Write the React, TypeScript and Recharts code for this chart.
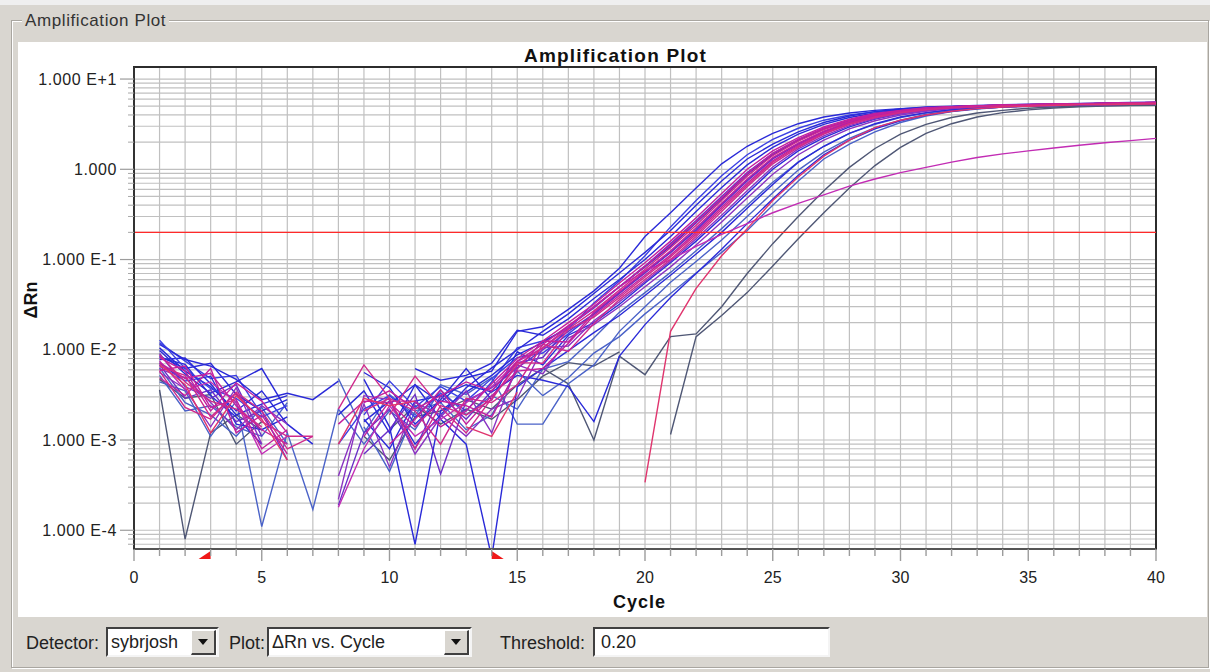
import React from 'react';
import {
  CartesianGrid,
  Line,
  LineChart,
  ReferenceArea,
  ReferenceDot,
  ReferenceLine,
  XAxis,
  YAxis,
} from 'recharts';

// cycle numbers on the x axis
const cycles = [
  1, 2, 3, 4, 5, 6, 7, 8, 9, 10, 11, 12, 13, 14, 15, 16, 17, 18, 19, 20,
  21, 22, 23, 24, 25, 26, 27, 28, 29, 30, 31, 32, 33, 34, 35, 36, 37, 38, 39, 40,
];

// ΔRn per well, one value per cycle (null = not drawn, value <= 0 on a log axis)
const w01 = [0.0085, 0.0062, 0.0071, 0.0032, 0.0021, 0.0028, null, 0.0019, 0.0035, 0.0012,
  0.0041, 0.0026, 0.0049, 0.0058, 0.016, 0.018, 0.028, 0.045, 0.08, 0.18,
  0.33, 0.62, 1.15, 1.8, 2.5, 3.2, 3.8, 4.2, 4.5, 4.7,
  4.85, 4.95, 5.05, 5.1, 5.15, 5.2, 5.25, 5.3, 5.3, 5.35];
const w02 = [0.012, 0.0075, 0.0048, 0.0052, 0.0019, null, null, 0.0009, 0.0022, 0.0031,
  0.0018, 0.0033, 0.0021, 0.0044, 0.0105, 0.0125, 0.017, 0.033, 0.058, 0.11,
  0.23, 0.45, 0.85, 1.45, 2.15, 2.85, 3.5, 4.0, 4.35, 4.6,
  4.8, 4.95, 5.05, 5.1, 5.2, 5.25, 5.3, 5.35, 5.4, 5.45];
const w03 = [0.0105, 0.0058, 0.0039, 0.0021, 0.0035, 0.0015, 0.0009, null, 0.0016, 0.0027,
  0.0009, 0.0019, 0.0038, 0.0063, 0.01, 0.016, 0.025, 0.042, 0.071, 0.12,
  0.21, 0.4, 0.74, 1.3, 1.9, 2.6, 3.3, 3.9, 4.35, 4.65,
  4.9, 5.0, 5.1, 5.2, 5.25, 5.3, 5.35, 5.45, 5.5, 5.55];
const w04 = [0.0072, 0.0048, 0.0055, 0.0024, 0.0013, 0.0009, null, null, 0.0011, 0.0027,
  0.0027, 0.0014, 0.0021, 0.0042, 0.008, 0.0125, 0.02, 0.032, 0.055, 0.092,
  0.16, 0.29, 0.54, 1.0, 1.6, 2.25, 2.95, 3.6, 4.15, 4.5,
  4.8, 4.95, 5.05, 5.15, 5.22, 5.28, 5.32, 5.4, 5.47, 5.5];
const w05 = [0.0091, 0.0039, 0.0029, 0.0041, 0.0011, null, null, 0.00019, 0.0012, 0.0022,
  0.0008, 0.0031, 0.0017, 0.0035, 0.0072, 0.0082, 0.018, 0.029, 0.05, 0.085,
  0.15, 0.27, 0.5, 0.92, 1.5, 2.15, 2.85, 3.5, 4.05, 4.45,
  4.75, 4.95, 5.05, 5.15, 5.2, 5.25, 5.3, 5.35, 5.4, 5.45];
const w06 = [0.0065, 0.0052, 0.0018, 0.0033, 0.0016, 0.0011, 0.0011, null, null, 0.0019,
  0.0051, 0.0023, 0.0012, 0.0029, 0.0068, 0.0105, 0.017, 0.027, 0.046, 0.078,
  0.135, 0.24, 0.45, 0.84, 1.42, 2.05, 2.75, 3.4, 4.0, 4.4,
  4.7, 4.92, 5.02, 5.12, 5.2, 5.26, 5.3, 5.36, 5.44, 5.5];
const w07 = [0.0078, 0.0081, 0.0042, 0.0019, 0.0025, 0.0031, null, null, 0.0047, 0.0014,
  0.00007, 0.0021, 0.0034, 0.0052, 0.0088, 0.012, 0.018, 0.03, 0.05, 0.083,
  0.14, 0.255, 0.47, 0.88, 1.45, 2.1, 2.8, 3.45, 4.0, 4.4,
  4.7, 4.9, 5.0, 5.1, 5.18, 5.24, 5.3, 5.35, 5.4, 5.45];
const w08 = [0.0059, 0.0066, 0.0023, 0.0028, 0.0008, 0.0013, null, 0.0015, 0.0027, 0.0026,
  0.0014, 0.0027, 0.0024, 0.0018, 0.0061, 0.0125, 0.0122, 0.026, 0.044, 0.074,
  0.125, 0.225, 0.42, 0.78, 1.35, 1.95, 2.65, 3.35, 3.95, 4.38,
  4.68, 4.9, 5.02, 5.1, 5.2, 5.25, 5.3, 5.36, 5.44, 5.5];
const w09 = [0.0068, 0.0029, 0.0036, 0.0016, 0.0021, 0.0006, null, null, 0.0007, 0.0013,
  0.0032, 0.00042, 0.0027, 0.0038, 0.0063, 0.01, 0.016, 0.025, 0.042, 0.071,
  0.12, 0.21, 0.4, 0.74, 1.3, 1.9, 2.6, 3.3, 3.9, 4.35,
  4.65, 4.9, 5.0, 5.1, 5.2, 5.25, 5.3, 5.35, 5.45, 5.5];
const w10 = [0.0049, 0.0031, 0.0062, 0.0012, 0.0019, 0.0007, null, null, null, 0.0009,
  0.0017, 0.0036, 0.0015, 0.0031, 0.0058, 0.0062, 0.0118, 0.024, 0.04, 0.067,
  0.112, 0.2, 0.38, 0.7, 1.24, 1.85, 2.55, 3.25, 3.85, 4.3,
  4.62, 4.85, 4.98, 5.08, 5.15, 5.22, 5.28, 5.32, 5.4, 5.45];
const w11 = [0.0088, 0.0044, 0.0027, 0.0022, 0.0014, null, null, 0.0022, 0.0068, 0.0029,
  0.0021, 0.0009, 0.0029, 0.0026, 0.0041, 0.0115, 0.0096, 0.0195, 0.036, 0.06,
  0.1, 0.18, 0.34, 0.64, 1.15, 1.75, 2.45, 3.15, 3.75, 4.22,
  4.56, 4.8, 4.95, 5.05, 5.12, 5.2, 5.25, 5.3, 5.38, 5.42];
const w12 = [0.0056, 0.0037, 0.0014, 0.0038, 0.0009, null, null, 0.0004, 0.0025, 0.0005,
  0.0026, 0.0019, 0.0011, 0.0022, 0.0029, 0.0105, 0.011, 0.021, 0.034, 0.057,
  0.096, 0.17, 0.31, 0.58, 1.06, 1.68, 2.35, 3.05, 3.65, 4.15,
  4.5, 4.78, 4.93, 5.03, 5.12, 5.2, 5.25, 5.3, 5.36, 5.42];
const w13 = [0.0098, 0.0054, 0.0033, 0.0044, 0.0062, 0.0021, null, null, 0.0056, 0.0038,
  0.0015, 0.0028, 0.0062, 0.0028, 0.0095, 0.0068, 0.0145, 0.02, 0.032, 0.055,
  0.092, 0.16, 0.29, 0.54, 1.0, 1.6, 2.25, 2.95, 3.6, 4.15,
  4.5, 4.8, 4.95, 5.05, 5.15, 5.22, 5.28, 5.32, 5.4, 5.45];
const w14 = [0.0044, 0.0035, 0.0011, 0.0027, 0.00011, 0.0012, 0.00017, 0.0022, 0.0009, 0.0021,
  0.0013, 0.0036, 0.0019, 0.0031, 0.0022, 0.0061, 0.0074, 0.0135, 0.026, 0.043,
  0.072, 0.125, 0.22, 0.4, 0.72, 1.2, 1.8, 2.5, 3.15, 3.75,
  4.2, 4.55, 4.8, 4.95, 5.05, 5.12, 5.2, 5.25, 5.3, 5.35];
const w15 = [0.0071, 0.0045, 0.0051, 0.0015, 0.0013, 0.0018, null, null, null, 0.0025,
  0.0041, 0.0017, 0.0009, 0.00005, 0.0039, 0.0062, 0.0098, 0.0155, 0.024, 0.04,
  0.067, 0.115, 0.2, 0.37, 0.68, 1.2, 1.8, 2.5, 3.2, 3.8,
  4.25, 4.6, 4.85, 4.98, 5.08, 5.15, 5.22, 5.28, 5.32, 5.38];
const w16 = [0.0063, 0.0026, 0.0019, 0.0011, 0.0023, 0.0009, null, 0.0048, 0.0012, 0.0032,
  0.0019, 0.0041, 0.0032, 0.0049, 0.0015, 0.0015, 0.0042, 0.0068, 0.016, 0.03,
  0.056, 0.095, 0.165, 0.3, 0.55, 0.98, 1.55, 2.2, 2.9, 3.5,
  4.05, 4.45, 4.72, 4.9, 5.0, 5.1, 5.18, 5.22, 5.28, 5.32];
const w17 = [0.0082, 0.0069, 0.0031, 0.0018, 0.0009, null, null, null, 0.0017, 0.0008,
  0.0027, 0.0031, 0.0041, 0.0034, 0.0052, 0.0046, 0.0039, 0.0016, 0.0085, 0.019,
  0.038, 0.07, 0.13, 0.25, 0.47, 0.86, 1.45, 2.1, 2.8, 3.45,
  4.0, 4.4, 4.7, 4.88, 5.0, 5.08, 5.15, 5.2, 5.26, 5.3];
const w18 = [0.0052, 0.0021, 0.0024, 0.0014, 0.0011, 0.0026, null, null, 0.0014, 0.00045,
  0.0021, 0.0026, 0.0013, 0.0019, 0.0058, 0.0031, 0.0049, 0.0092, 0.014, 0.025,
  0.042, 0.071, 0.12, 0.21, 0.4, 0.74, 1.3, 1.9, 2.6, 3.3,
  3.9, 4.35, 4.65, 4.9, 5.0, 5.1, 5.2, 5.25, 5.3, 5.35];
const w19 = [0.0069, 0.0041, 0.0012, 0.0031, 0.0017, 0.0006, null, 0.0009, 0.0029, 0.0024,
  0.0027, null, 0.0014, 0.0011, 0.0034, null, null, null, null, 0.00034,
  0.016, 0.048, 0.11, 0.22, 0.45, 0.82, 1.4, 2.1, 2.9, 3.5,
  4.0, 4.4, 4.7, 4.9, 5.0, 5.1, 5.2, 5.2, 5.25, 5.3];
const w20 = [0.0075, 0.0036, 0.0044, 0.0026, 0.0007, 0.0011, null, 0.00018, 0.0008, 0.0024,
  0.0011, 0.0017, 0.0026, 0.0039, 0.0074, 0.0105, 0.018, 0.03, 0.05, 0.075,
  0.1, 0.14, 0.19, 0.25, 0.33, 0.42, 0.52, 0.65, 0.78, 0.92,
  1.05, 1.2, 1.35, 1.48, 1.6, 1.72, 1.85, 1.97, 2.08, 2.2];
const w21 = [0.0036, 0.00008, 0.0012, 0.0019, 0.0013, null, null, null, 0.0011, 0.0006,
  0.0018, 0.0021, 0.0028, 0.0022, 0.0041, 0.0062, 0.0042, 0.001, 0.0085, 0.0053,
  0.014, 0.015, 0.03, 0.07, 0.15, 0.3, 0.58, 1.05, 1.7, 2.45,
  3.15, 3.75, 4.2, 4.5, 4.75, 4.9, 5.0, 5.08, 5.12, 5.18];
const w22 = [0.0047, 0.0029, 0.0032, 0.0009, 0.0016, null, null, null, null, 0.0013,
  0.0024, 0.0015, 0.0022, 0.0017, 0.0028, 0.0051, 0.0072, 0.0066, 0.0095, null,
  0.00115, 0.014, 0.024, 0.043, 0.085, 0.17, 0.33, 0.62, 1.1, 1.75,
  2.5, 3.2, 3.8, 4.25, 4.55, 4.78, 4.92, 5.02, 5.08, 5.12];
const w23 = [0.0115, 0.0078, 0.0066, 0.0047, 0.0028, 0.0033, 0.0028, 0.0045, null, null,
  0.0062, 0.0046, 0.0052, 0.0071, 0.0165, 0.0145, 0.022, 0.037, 0.06, 0.1,
  0.18, 0.34, 0.63, 1.12, 1.75, 2.45, 3.15, 3.75, 4.2, 4.55,
  4.8, 4.95, 5.05, 5.12, 5.2, 5.25, 5.3, 5.38, 5.45, 5.5];
const w24 = [0.0061, 0.0049, 0.0026, 0.0013, 0.0024, 0.0015, null, 0.00022, 0.0031, 0.0028,
  0.0007, 0.0018, 0.0035, 0.0012, 0.0068, 0.0054, 0.0135, 0.019, 0.03, 0.05,
  0.083, 0.145, 0.26, 0.48, 0.88, 1.45, 2.1, 2.8, 3.45, 4.0,
  4.4, 4.7, 4.88, 5.0, 5.1, 5.18, 5.24, 5.3, 5.34, 5.4];
const w25 = [0.0082, 0.0058, 0.0021, 0.0043, 0.0027, 0.0012, null, null, 0.0026, 0.0035,
  0.0022, 0.0031, 0.0044, 0.0035, 0.0075, 0.0115, 0.0185, 0.03, 0.05, 0.084,
  0.145, 0.26, 0.48, 0.9, 1.5, 2.15, 2.85, 3.5, 4.05, 4.45,
  4.75, 4.95, 5.05, 5.15, 5.2, 5.28, 5.32, 5.38, 5.45, 5.52];
const w26 = [0.0128, 0.0062, 0.0037, 0.0029, 0.0018, 0.0024, null, null, 0.0019, 0.0045,
  0.0023, 0.0039, 0.0027, 0.0048, 0.0082, 0.0092, 0.015, 0.025, 0.043, 0.072,
  0.12, 0.215, 0.41, 0.76, 1.32, 1.92, 2.62, 3.3, 3.9, 4.35,
  4.65, 4.88, 5.0, 5.1, 5.18, 5.24, 5.3, 5.35, 5.42, 5.48];
const w27 = [0.0058, 0.0023, 0.0017, 0.0034, 0.0021, 0.0008, 0.0011, null, 0.0021, 0.0029,
  0.0008, 0.0024, 0.0019, 0.0028, 0.0072, 0.0071, 0.0168, 0.023, 0.038, 0.064,
  0.107, 0.19, 0.36, 0.67, 1.2, 1.8, 2.5, 3.2, 3.8, 4.28,
  4.6, 4.85, 4.97, 5.06, 5.14, 5.2, 5.26, 5.3, 5.38, 5.44];

const BLUE = '#2a2ad8';
const BLUE2 = '#3b40e4';
const STEEL = '#4a62c8';
const PURPLE = '#6a2ec8';
const VIOLET = '#8a32c2';
const MAGENTA = '#c2209e';
const MAGENTA2 = '#cf2a8c';
const PINK = '#e0356e';
const SLATE = '#4f5775';

// drawing order: back to front
const wells = [
  { key: 'w21', color: SLATE, values: w21 },
  { key: 'w22', color: SLATE, values: w22 },
  { key: 'w14', color: STEEL, values: w14 },
  { key: 'w16', color: STEEL, values: w16 },
  { key: 'w18', color: STEEL, values: w18 },
  { key: 'w01', color: BLUE, values: w01 },
  { key: 'w02', color: BLUE2, values: w02 },
  { key: 'w03', color: BLUE, values: w03 },
  { key: 'w07', color: BLUE, values: w07 },
  { key: 'w13', color: BLUE, values: w13 },
  { key: 'w15', color: BLUE, values: w15 },
  { key: 'w17', color: BLUE, values: w17 },
  { key: 'w23', color: BLUE, values: w23 },
  { key: 'w26', color: BLUE2, values: w26 },
  { key: 'w05', color: PURPLE, values: w05 },
  { key: 'w09', color: PURPLE, values: w09 },
  { key: 'w12', color: VIOLET, values: w12 },
  { key: 'w24', color: VIOLET, values: w24 },
  { key: 'w20', color: '#c22cb4', values: w20 },
  { key: 'w04', color: MAGENTA, values: w04 },
  { key: 'w06', color: MAGENTA2, values: w06 },
  { key: 'w08', color: MAGENTA, values: w08 },
  { key: 'w10', color: MAGENTA, values: w10 },
  { key: 'w11', color: MAGENTA2, values: w11 },
  { key: 'w25', color: MAGENTA, values: w25 },
  { key: 'w27', color: MAGENTA2, values: w27 },
  { key: 'w19', color: PINK, values: w19 },
];

const threshold = 0.2;
const baselineStart = 3;
const baselineEnd = 14;

const yMin = 0.000062;
const yMax = 13.6;
const decadeTicks = [0.0001, 0.001, 0.01, 0.1, 1, 10];
const decadeLabels = ['1.000 E-4', '1.000 E-3', '1.000 E-2', '1.000 E-1', '1.000', '1.000 E+1'];
const minorSteps = [2, 3, 4, 5, 6, 7, 8, 9];
const cycleTicks = cycles.map((c) => c - 1).concat([40]);

const gridTicks: number[] = [0.00007, 0.00008, 0.00009];
decadeTicks.forEach((d) => {
  gridTicks.push(d);
  if (d < 10) minorSteps.forEach((m) => gridTicks.push(d * m));
});

const rows = cycles.map((c, i) => {
  const row: Record<string, number | null> = { cycle: c };
  wells.forEach((w) => {
    row[w.key] = w.values[i];
  });
  return row;
});

const FONT = "'Liberation Sans', Arial, sans-serif";
const PANEL = '#d9d6d0';

const CycleTick = (props: any) => {
  const { x, y, payload } = props;
  const major = payload.value % 5 === 0;
  return (
    <g>
      <line x1={x} x2={x} y1={y} y2={y + (major ? 12 : 7)} stroke="#9c9c9c" strokeWidth={1.4} />
      {major && (
        <text x={x} y={y + 34} textAnchor="middle" fontSize={16} fontFamily={FONT} fill="#222">
          {payload.value}
        </text>
      )}
    </g>
  );
};

const RnTick = (props: any) => {
  const { x, y, payload } = props;
  const idx = decadeTicks.findIndex((d) => Math.abs(d - payload.value) / d < 1e-9);
  if (idx < 0) {
    return <line x1={x - 6} x2={x} y1={y} y2={y} stroke="#a8a8a8" strokeWidth={1} />;
  }
  return (
    <g>
      <line x1={x - 14} x2={x} y1={y} y2={y} stroke="#9c9c9c" strokeWidth={1.2} />
      <text x={x - 17} y={y} dy="0.35em" textAnchor="end" fontSize={16} fontFamily={FONT} fill="#222" letterSpacing={0.6}>
        {decadeLabels[idx]}
      </text>
    </g>
  );
};

const StartMark = (props: any) => (
  <polygon points={`${props.cx},${props.cy + 2} ${props.cx},${props.cy + 10} ${props.cx - 12},${props.cy + 10}`} fill="#f01818" />
);
const EndMark = (props: any) => (
  <polygon points={`${props.cx},${props.cy + 2} ${props.cx},${props.cy + 10} ${props.cx + 12},${props.cy + 10}`} fill="#f01818" />
);

const sunken: React.CSSProperties = {
  position: 'absolute',
  top: 627,
  height: 26,
  background: '#fff',
  borderTop: '2px solid #404040',
  borderLeft: '2px solid #404040',
  borderBottom: '2px solid #f4f4f4',
  borderRight: '2px solid #f4f4f4',
  fontSize: 18,
  lineHeight: '26px',
  paddingLeft: 3,
  color: '#222',
  boxSizing: 'content-box',
};

const DropButton = () => (
  <div
    style={{
      position: 'absolute',
      right: 1,
      top: 1,
      width: 22,
      height: 22,
      background: PANEL,
      borderTop: '1px solid #fff',
      borderLeft: '1px solid #fff',
      borderBottom: '2px solid #404040',
      borderRight: '2px solid #404040',
    }}
  >
    <div
      style={{
        position: 'absolute',
        left: 6,
        top: 8,
        width: 0,
        height: 0,
        borderLeft: '5px solid transparent',
        borderRight: '5px solid transparent',
        borderTop: '6px solid #111',
      }}
    />
  </div>
);

const label: React.CSSProperties = {
  position: 'absolute',
  top: 630,
  fontSize: 18,
  color: '#222',
  lineHeight: '26px',
};

export default function App() {
  return (
    <div
      style={{
        position: 'absolute',
        left: 0,
        top: 0,
        width: 1210,
        height: 672,
        background: PANEL,
        overflow: 'hidden',
        fontFamily: FONT,
      }}
    >
      <div style={{ position: 'absolute', left: 0, top: 0, width: 1210, height: 5, background: '#efefef' }} />
      <div
        style={{
          position: 'absolute',
          left: 11,
          top: 20,
          width: 1196,
          height: 646,
          border: '1px solid #a9a6a0',
          boxShadow: 'inset 1px 1px 0 #ffffff, 1px 1px 0 #ffffff',
        }}
      />
      <div
        style={{
          position: 'absolute',
          left: 22,
          top: 10,
          padding: '0 3px',
          background: PANEL,
          fontSize: 17,
          letterSpacing: 0.6,
          color: '#333',
          lineHeight: '22px',
        }}
      >
        Amplification Plot
      </div>
      <div style={{ position: 'absolute', left: 18, top: 42, width: 1189, height: 575, background: '#fff' }} />

      <div style={{ position: 'absolute', left: 0, top: 0 }}>
        <LineChart width={1210} height={672} data={rows} margin={{ top: 67, right: 54, bottom: 63, left: 14 }}>
          <CartesianGrid stroke="#c0c0c0" strokeWidth={1.2} />
          <XAxis
            type="number"
            dataKey="cycle"
            domain={[0, 40]}
            ticks={cycleTicks}
            interval={0}
            tick={<CycleTick />}
            tickLine={false}
            tickSize={0}
            tickMargin={0}
            height={60}
            axisLine={{ stroke: '#555', strokeWidth: 2 }}
          />
          <YAxis
            type="number"
            scale="log"
            domain={[yMin, yMax]}
            allowDataOverflow
            ticks={gridTicks}
            interval={0}
            tick={<RnTick />}
            tickLine={false}
            tickSize={0}
            tickMargin={0}
            width={120}
            axisLine={{ stroke: '#333', strokeWidth: 2 }}
          />
          <ReferenceArea x1={0} x2={40} y1={yMin} y2={yMax} fill="none" stroke="#2c2c2c" strokeWidth={2} />
          {wells.map((w) => (
            <Line
              key={w.key}
              type="linear"
              dataKey={w.key}
              stroke={w.color}
              strokeWidth={1.4}
              dot={false}
              activeDot={false}
              connectNulls={false}
              isAnimationActive={false}
            />
          ))}
          <ReferenceLine y={threshold} stroke="#ff2a2a" strokeWidth={1.3} />
          <ReferenceDot x={baselineStart} y={yMin} r={0} shape={<StartMark />} />
          <ReferenceDot x={baselineEnd} y={yMin} r={0} shape={<EndMark />} />
        </LineChart>
      </div>

      <div style={{ position: 'absolute', left: 524, top: 45, fontSize: 19, fontWeight: 'bold', letterSpacing: 1.2, color: '#111' }}>
        Amplification Plot
      </div>
      <div style={{ position: 'absolute', left: 613, top: 592, fontSize: 18, fontWeight: 'bold', letterSpacing: 1, color: '#111' }}>
        Cycle
      </div>
      <div
        style={{
          position: 'absolute',
          left: 31,
          top: 300,
          transform: 'translate(-50%, -50%) rotate(-90deg)',
          fontSize: 18,
          fontWeight: 'bold',
          color: '#111',
          whiteSpace: 'nowrap',
        }}
      >
        ΔRn
      </div>

      <div style={{ ...label, left: 26 }}>Detector:</div>
      <div style={{ ...sunken, left: 106, width: 106 }}>
        sybrjosh
        <DropButton />
      </div>
      <div style={{ ...label, left: 229 }}>Plot:</div>
      <div style={{ ...sunken, left: 267, width: 198 }}>
        ΔRn vs. Cycle
        <DropButton />
      </div>
      <div style={{ ...label, left: 500 }}>Threshold:</div>
      <div style={{ ...sunken, left: 593, width: 227, paddingLeft: 6 }}>0.20</div>
    </div>
  );
}
